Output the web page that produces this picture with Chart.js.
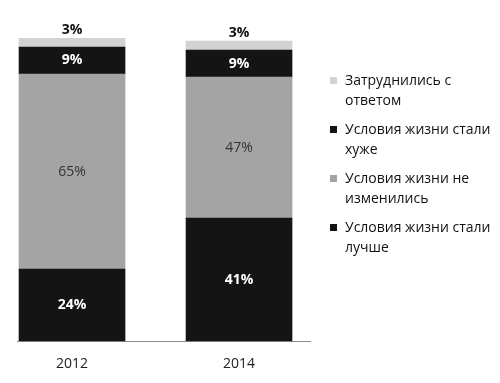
<!DOCTYPE html>
<html><head><meta charset="utf-8">
<script src="https://cdn.jsdelivr.net/npm/chart.js@4/dist/chart.umd.min.js"></script>
<style>
html,body{margin:0;padding:0;background:#fff;}
#wrap{position:relative;width:500px;height:383px;}
#legend{position:absolute;left:326px;top:70px;font-family:"Open Sans",sans-serif;font-size:14px;color:#111;}
.item{position:relative;padding-left:19px;line-height:20px;margin-bottom:9px;white-space:nowrap;}
.mk{position:absolute;left:4px;top:7px;width:7px;height:7px;}
</style></head><body>
<div id="wrap"><canvas id="c" width="500" height="383"></canvas><div id="legend"></div></div>
<script>
const years = [2012, 2014];
const better = [24, 41];
const same = [65, 47];
const worse = [9, 9];
const unsure = [3, 3];
const seriesLabels = [
  ["Условия жизни стали", "лучше"],
  ["Условия жизни не", "изменились"],
  ["Условия жизни стали", "хуже"],
  ["Затруднились с", "ответом"]
];
const colors = ["#141414", "#a4a4a4", "#141414", "#d2d2d2"];
const labelStyles = [
  {color:"#ffffff", weight:"bold"},
  {color:"#333333", weight:"normal"},
  {color:"#ffffff", weight:"bold"},
  {color:"#111111", weight:"bold", above:true}
];
const series = [better, same, worse, unsure];

const datasets = series.map((arr, i) => ({
  label: seriesLabels[i].join(" "),
  data: arr.map((v, j) => ({x: years[j], y: v})),
  backgroundColor: colors[i],
  borderWidth: 0,
  barThickness: 106
}));

const labelPlugin = {
  id: "vals",
  afterDatasetsDraw(chart) {
    const ctx = chart.ctx;
    ctx.save();
    ctx.textAlign = "center";
    ctx.textBaseline = "middle";
    chart.data.datasets.forEach((ds, i) => {
      const meta = chart.getDatasetMeta(i);
      const st = labelStyles[i];
      meta.data.forEach((el, j) => {
        const v = ds.data[j].y;
        ctx.font = st.weight + " 14px 'Open Sans', sans-serif";
        ctx.fillStyle = st.color;
        const y = st.above ? el.y - 8 : (el.y + el.base) / 2;
        ctx.fillText(v + "%", el.x, y);
      });
    });
    ctx.restore();
  }
};

const chart = new Chart(document.getElementById("c"), {
  type: "bar",
  data: { datasets },
  options: {
    responsive: false,
    animation: false,
    layout: { padding: { left: 17, right: 190, top: 38, bottom: 5 } },
    plugins: { legend: { display: false }, tooltip: { enabled: false } },
    scales: {
      x: {
        type: "linear",
        stacked: true,
        offset: false,
        min: 2011.341,
        max: 2014.85,
        grid: { display: false, offset: false },
        border: { display: true, color: "#8a8a8a", width: 1 },
        afterBuildTicks: s => { s.ticks = years.map(v => ({ value: v })); },
        ticks: {
          callback: v => String(v),
          color: "#222",
          font: { family: "'Open Sans', sans-serif", size: 14 },
          padding: 6,
          maxRotation: 0
        }
      },
      y: {
        stacked: true,
        display: false,
        min: 0,
        max: 101
      }
    }
  },
  plugins: [labelPlugin]
});

const lg = document.getElementById("legend");
chart.data.datasets.map((d, i) => i).reverse().forEach(i => {
  const it = document.createElement("div");
  it.className = "item";
  const mk = document.createElement("span");
  mk.className = "mk";
  mk.style.background = colors[i];
  it.appendChild(mk);
  it.appendChild(document.createTextNode(seriesLabels[i][0]));
  it.appendChild(document.createElement("br"));
  it.appendChild(document.createTextNode(seriesLabels[i][1]));
  lg.appendChild(it);
});
</script>
</body></html>
